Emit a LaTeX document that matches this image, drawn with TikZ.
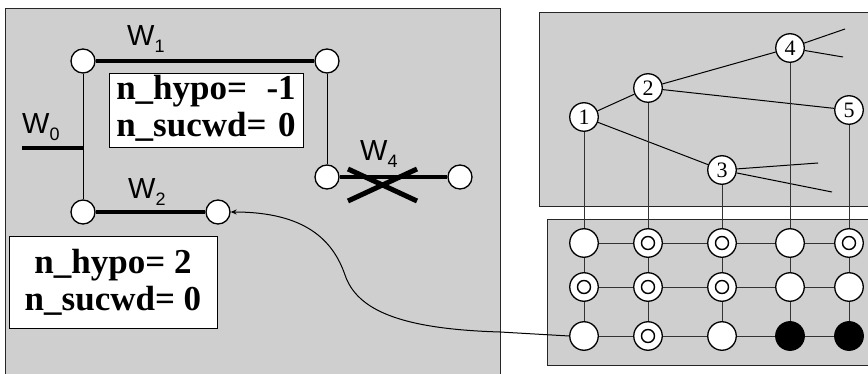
\documentclass[tikz,border=0pt]{standalone}
\usepackage{fontspec}
\setmainfont{Liberation Serif}
\newfontfamily\wfont{Liberation Sans}
\usetikzlibrary{arrows.meta}

\begin{document}
\begin{tikzpicture}[x=1pt,y=-1pt,
  panel/.style={draw=black!85, line width=1pt, fill=black!19},
  wire/.style={line width=3.8pt},
  link/.style={line width=1pt},
  hair/.style={line width=0.7pt, black!80},
  knot/.style={circle, draw, line width=1.3pt, fill=white, minimum size=24pt, inner sep=0pt},
  dot/.style={circle, draw, line width=1.3pt, fill=white, minimum size=28.5pt, inner sep=0pt,
    font=\fontsize{22}{22}\selectfont},
  ring/.style={dot, path picture={\draw[line width=1.4pt] (path picture bounding box.center) circle (6.5pt);}},
  solid dot/.style={dot, fill=black},
  infobox/.style={draw, line width=1pt, fill=white, inner sep=0pt,
    font=\fontsize{35}{37}\selectfont\bfseries},
  wlabel/.style={anchor=base west, inner sep=0pt, font=\wfont\fontsize{29}{29}\selectfont},
]
\useasboundingbox (0,0) rectangle (868,374);
\clip (0,0) rectangle (868,374);

% ---------------- left panel: word lattice ----------------
\draw[panel] (5,9) rectangle (500,390);

\node[knot] (a1) at (83,61) {};
\node[knot] (b1) at (327,61) {};
\node[knot] (b2) at (327,177) {};
\node[knot] (c2) at (460,177) {};
\node[knot] (a2) at (83,212) {};
\node[knot] (a2r) at (218,212) {};
\coordinate (w0s) at (22,148);
\coordinate (w0e) at (83,148);

\draw[wire] (a1) -- (b1);
\draw[wire] (w0s) -- (w0e);
\draw[wire] (a2) -- (a2r);
\draw[wire] (b2) -- (c2);
\draw[link] (a1) -- (a2);
\draw[link] (b1) -- (b2);

% cancelled word W4
\draw[line width=5pt] (348,169) -- (417,201);
\draw[line width=5pt] (348,201) -- (417,169);

% word labels
\node[wlabel] (lw1) at (127,46) {W\raisebox{-7pt}{\fontsize{18}{18}\selectfont 1}};
\node[wlabel] (lw0) at (22,134) {W\raisebox{-7pt}{\fontsize{18}{18}\selectfont 0}};
\node[wlabel] (lw2) at (128,199) {W\raisebox{-7pt}{\fontsize{18}{18}\selectfont 2}};
\node[wlabel] (lw4) at (360,161) {W\raisebox{-7pt}{\fontsize{18}{18}\selectfont 4}};

% counters
\node[infobox, minimum width=194pt, minimum height=72pt] (box1) at (206,111)
  {\begin{tabular}{@{}l@{}r@{}}n\_hypo= & -1\\ n\_sucwd=\ & 0\end{tabular}};
\node[infobox, minimum width=208pt, minimum height=91pt, align=center] (box2) at (113,282.5)
  {\fontsize{35}{41}\selectfont n\_hypo= 2\\ n\_sucwd= 0};

% ---------------- right top panel: hypothesis tree ----------------
\draw[panel] (539,13) rectangle (890,207);

\node[dot] (t1) at (584,117) {1};
\node[dot] (t2) at (648,88) {2};
\node[dot] (t3) at (722,170) {3};
\node[dot] (t4) at (790,48) {4};
\node[dot] (t5) at (849,110) {5};
\coordinate (e4a) at (845,29);
\coordinate (e4b) at (843,57);
\coordinate (e3a) at (818,163);
\coordinate (e3b) at (832,192);

\draw[link] (t1) -- (t2);
\draw[link] (t1) -- (t3);
\draw[link] (t2) -- (t4);
\draw[link] (t2) -- (t5);
\draw[link] (t4) -- (e4a);
\draw[link] (t4) -- (e4b);
\draw[link] (t3) -- (e3a);
\draw[link] (t3) -- (e3b);

% ---------------- right bottom panel: state grid ----------------
\draw[panel] (547,220) rectangle (890,365);

\node[dot]       (g11) at (584,243) {};
\node[ring]      (g12) at (648,243) {};
\node[ring]      (g13) at (722,243) {};
\node[dot]       (g14) at (790,243) {};
\node[ring]      (g15) at (849,243) {};
\node[ring]      (g21) at (584,287) {};
\node[ring]      (g22) at (648,287) {};
\node[ring]      (g23) at (722,287) {};
\node[dot]       (g24) at (790,287) {};
\node[dot]       (g25) at (849,287) {};
\node[dot]       (g31) at (584,336) {};
\node[ring]      (g32) at (648,336) {};
\node[dot]       (g33) at (722,336) {};
\node[solid dot] (g34) at (790,336) {};
\node[solid dot] (g35) at (849,336) {};

\foreach \r in {1,2,3}{
  \draw[hair] (g\r1) -- (g\r2);
  \draw[hair] (g\r2) -- (g\r3);
  \draw[hair] (g\r3) -- (g\r4);
  \draw[hair] (g\r4) -- (g\r5);
}
\foreach \c in {1,...,5}{
  \draw[hair] (g1\c) -- (g2\c);
  \draw[hair] (g2\c) -- (g3\c);
  \draw[hair] (t\c) -- (g1\c);
}

% link from the grid back to word W2
\draw[link, {Stealth[length=6pt,width=5pt]}-] (a2r.east)
  .. controls (305,212) and (333,240) .. (345,275)
  .. controls (357,310) and (400,329) .. (500,332)
  -- (g31.west);
\end{tikzpicture}
\end{document}
